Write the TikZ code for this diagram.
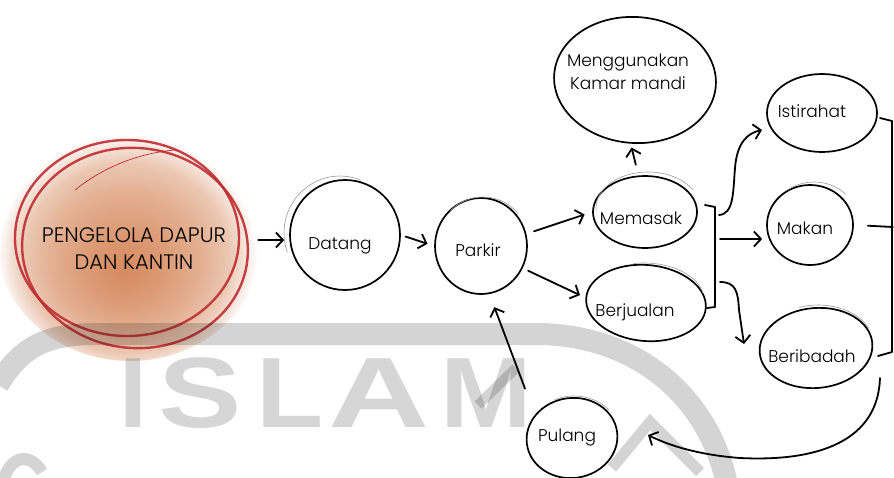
\documentclass[tikz,border=0pt]{standalone}
\usepackage{fontspec}
\setmainfont{Poppins Light}
\newfontfamily\wmfont{Liberation Sans}
\usetikzlibrary{shapes.geometric,arrows.meta}
\definecolor{wc}{RGB}{212,132,86}
\definecolor{redc}{RGB}{190,45,50}
\definecolor{wm}{RGB}{211,211,211}
\pgfdeclareradialshading{wcshade}{\pgfpoint{-1bp}{-7bp}}{color(0bp)=(wc!95!white); color(7bp)=(wc!82!white); color(14bp)=(wc!64!white); color(19bp)=(wc!45!white); color(21.5bp)=(wc!25!white); color(24bp)=(white); color(50bp)=(white)}
\tikzset{
  bub/.style={ellipse, draw=black, line width=1.7pt, inner sep=0pt},
  hl/.style={draw=black!40, line width=0.6pt},
  lbl/.style={font=\fontsize{17}{20}\selectfont, inner sep=0pt},
  arr/.style={line width=1.8pt, -{Straight Barb[length=7pt,width=15pt]}, line cap=round, line join=round},
  ln/.style={line width=1.8pt, line cap=round, line join=round},
  redline/.style={draw=redc, line width=2.4pt, draw opacity=0.9},
  wmline/.style={draw=black, draw opacity=0.17, line width=22pt},
  wmletter/.style={font=\wmfont\bfseries\fontsize{100}{100}\selectfont, text=black, text opacity=0.16, inner sep=0pt, anchor=base}
}
\begin{document}
\begin{tikzpicture}[x=1pt,y=-1pt]
\useasboundingbox (0,0) rectangle (894,477);
% watercolor
\shade[shading=wcshade] (130,236) ellipse [x radius=135, y radius=125];
% red sketch circle
\draw[redline] (127,238) ellipse [x radius=112, y radius=98];
\draw[redline, rotate around={-6:(135,248)}] (135,248) ellipse [x radius=113, y radius=100];
\draw[draw=redc, line width=0.7pt] (75,190) .. controls (105,166) and (140,153) .. (175,150);
\node[ellipse, minimum width=226, minimum height=200, inner sep=0pt] (pengelola) at (128,240) {};
\node[font=\fontsize{21}{27}\selectfont, align=center, inner sep=0pt] (tpeng) at (134,249) {PENGELOLA DAPUR\\DAN KANTIN};
% watermark
\draw[wmline] (-2,385) .. controls (20,348) and (45,334) .. (95,334) -- (540,334) .. controls (640,336) and (712,400) .. (728,490);
\draw[draw=black, draw opacity=0.17, line width=10pt] (478,405) -- (516,368);
\draw[draw=black, draw opacity=0.17, line width=11pt, line join=miter] (612,468) -- (650,422) -- (700,472);
\draw[draw=black, draw opacity=0.17, line width=12pt] (3,482) .. controls (10,455) and (30,452) .. (42,472);
\node[wmletter] (wI) at (133,427) {I};
\node[wmletter, xscale=1.25] (wS) at (200,427) {S};
\node[wmletter, xscale=1.1] (wL) at (290,427) {L};
\node[wmletter, xscale=1.4] (wA) at (379,427) {A};
\node[wmletter, xscale=1.1] (wM) at (486,427) {M};
% bubbles
\node[bub, minimum width=110, minimum height=110] (datang) at (345,235) {};
\node[bub, minimum width=92, minimum height=96] (parkir) at (481,246) {};
\node[bub, minimum width=104, minimum height=72] (memasak) at (645,212) {};
\node[bub, minimum width=120, minimum height=76, rotate=-5] (berjualan) at (646,303) {};
\node[bub, minimum width=162, minimum height=126, rotate=-4] (kamar) at (635,80) {};
\node[bub, minimum width=110, minimum height=78] (istirahat) at (822,113) {};
\node[bub, minimum width=86, minimum height=80] (makan) at (810,225) {};
\node[bub, minimum width=113, minimum height=80, rotate=5] (beribadah) at (816,348) {};
\node[bub, minimum width=91, minimum height=80, rotate=8] (pulang) at (572,438) {};
% sketch highlights
\draw[hl] (340,233) ++(160:56 and 57) arc[start angle=160, end angle=292, x radius=56, y radius=57];
\draw[hl] (483,244) ++(225:46 and 47) arc[start angle=225, end angle=320, x radius=46, y radius=47];
\draw[hl] (648,208) ++(175:52 and 36) arc[start angle=175, end angle=330, x radius=52, y radius=36];
\draw[hl] (644,300) ++(260:60 and 37) arc[start angle=260, end angle=350, x radius=60, y radius=37];
\draw[hl] (814,222) ++(235:44 and 40) arc[start angle=235, end angle=315, x radius=44, y radius=40];
\draw[hl] (818,345) ++(250:56 and 40) arc[start angle=250, end angle=335, x radius=56, y radius=40];
\draw[hl] (574,436) ++(245:46 and 40) arc[start angle=245, end angle=320, x radius=46, y radius=40];
% labels
\node[lbl] (tdatang) at (340,246) {Datang};
\node[lbl] (tparkir) at (478,250) {Parkir};
\node[lbl] (tmemasak) at (641,218) {Memasak};
\node[lbl] (tberjualan) at (635,312) {Berjualan};
\node[lbl, align=center, font=\fontsize{17}{23}\selectfont] (tkamar) at (628,72) {Menggunakan\\Kamar mandi};
\node[lbl] (tistirahat) at (812,111) {Istirahat};
\node[lbl] (tmakan) at (805,228) {Makan};
\node[lbl] (tberibadah) at (812,356) {Beribadah};
\node[lbl] (tpulang) at (567,437) {Pulang};
% coordinates for free ends
\coordinate (bs1) at (719,215);
\coordinate (bs2) at (720,239);
\coordinate (bs3) at (720,282);
\coordinate (bt3) at (744,344);
\coordinate (rt) at (880,378);
\coordinate (ret) at (648,435);
% connectors
\draw[arr, shorten <=17pt, shorten >=5pt] (pengelola.east) -- (pengelola.east -| datang.west);
\draw[arr, shorten <=5pt, shorten >=7pt] (datang.east) -- (parkir.west);
\draw[arr, shorten <=8pt, shorten >=8pt] (parkir.15) -- (memasak.west);
\draw[arr, shorten <=6pt, shorten >=6pt] (parkir.-28) -- (berjualan.west);
\draw[arr, shorten <=11pt, shorten >=4pt] (memasak.100) -- (kamar.south);
\draw[ln] (705,205) -- (715,207) -- (715,307) -- (707,308);
\draw[arr] (bs1) .. controls (734,214) and (733,192) .. (735,168) .. controls (737,142) and (748,133) .. (762,130);
\draw[arr, shorten >=4pt] (bs2) -- (bs2 -| makan.west);
\draw[arr] (bs3) .. controls (736,282) and (738,292) .. (739,310) -- (bt3);
\draw[ln, shorten <=14pt] (makan.east) -- ++(39,2);
\draw[ln] (880,118) -- (892,121) -- (892,352) -- (878,356);
\draw[arr] (rt) .. controls (878,440) and (820,462) .. (740,458) .. controls (700,455) and (670,446) .. (ret);
\draw[arr, shorten <=28pt, shorten >=14pt] (pulang.140) -- (parkir.-80);
\end{tikzpicture}
\end{document}
